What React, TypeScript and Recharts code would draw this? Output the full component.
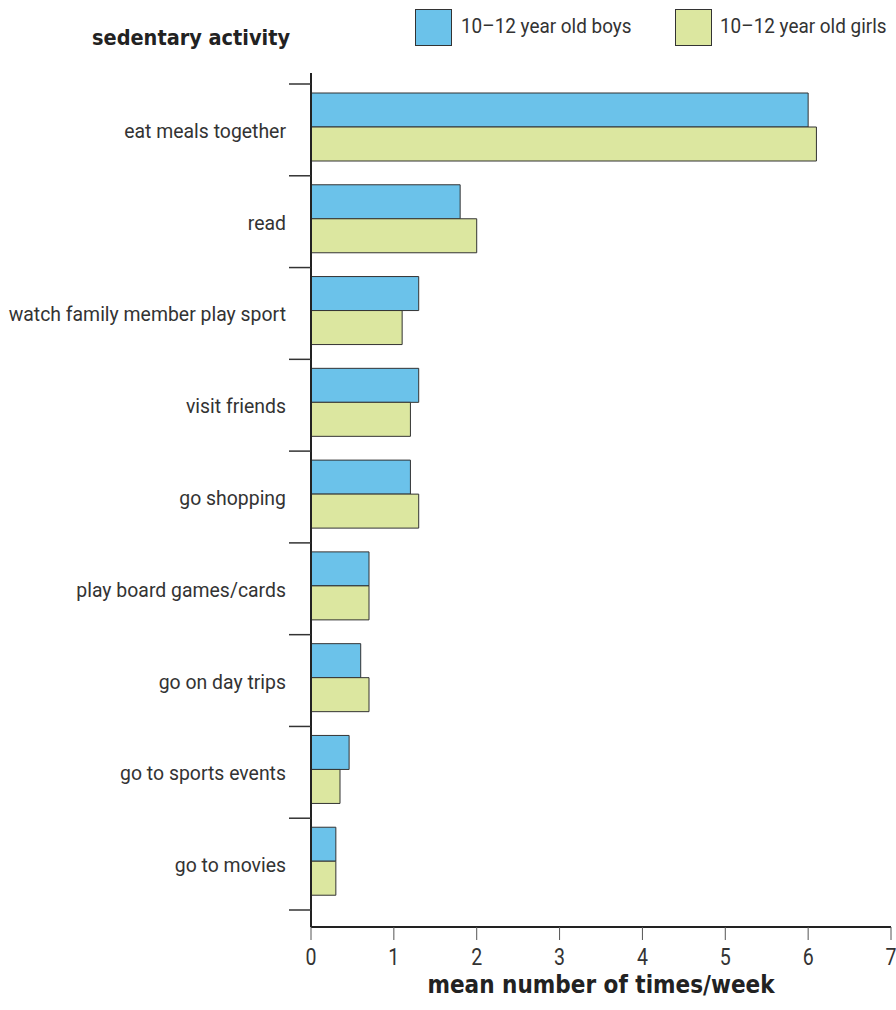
import React from 'react';
import { BarChart, Bar, XAxis, YAxis } from 'recharts';

const activities = [
  'eat meals together',
  'read',
  'watch family member play sport',
  'visit friends',
  'go shopping',
  'play board games/cards',
  'go on day trips',
  'go to sports events',
  'go to movies',
];
const boys = [6.0, 1.8, 1.3, 1.3, 1.2, 0.7, 0.6, 0.46, 0.3];
const girls = [6.1, 2.0, 1.1, 1.2, 1.3, 0.7, 0.7, 0.35, 0.3];
const xTicks = [0, 1, 2, 3, 4, 5, 6, 7];

const BLUE = '#6BC2EA';
const GREEN = '#DCE7A0';
const LIGHT = 'Roboto, "Noto Sans", sans-serif';
const BOLD = '"DejaVu Sans Condensed", "DejaVu Sans", sans-serif';

const W = 896;
const H = 1010;
const TOP = 73;
const BOTTOM = 83;
const PAD_TOP = 8;
const PAD_BOTTOM = 20;
const BAND = (H - TOP - BOTTOM - PAD_TOP - PAD_BOTTOM) / activities.length;

const data = activities.map((name, i) => ({ name, boys: boys[i], girls: girls[i] }));

// label at band centre, plus divider ticks at band edges
const CategoryTick = (props: any) => {
  const { x, y, payload, index } = props;
  return (
    <g>
      <line x1={x - 22} x2={x} y1={y - BAND / 2 + 3} y2={y - BAND / 2 + 3} stroke="#333" strokeWidth={1.5} />
      {index === activities.length - 1 && (
        <line x1={x - 22} x2={x} y1={y + BAND / 2 + 3} y2={y + BAND / 2 + 3} stroke="#333" strokeWidth={1.5} />
      )}
      <g transform={`translate(${x - 25},${y + 11}) scale(0.925,1)`}>
        <text x={0} y={0} textAnchor="end" fontSize={21} fill="#333" fontFamily={LIGHT}>
          {payload.value}
        </text>
      </g>
    </g>
  );
};

const XTick = (props: any) => {
  const { x, y, payload } = props;
  return (
    <g transform={`translate(${x},${y + 23}) scale(0.85,1)`}>
      <text x={0} y={0} textAnchor="middle" fontSize={23} fill="#333" fontFamily={LIGHT}>
        {payload.value}
      </text>
    </g>
  );
};

const legendText: React.CSSProperties = {
  position: 'absolute',
  top: 14,
  fontSize: 21,
  color: '#333',
  fontFamily: LIGHT,
  whiteSpace: 'nowrap',
  transform: 'scaleX(0.9)',
  transformOrigin: 'left',
};

export default function App() {
  return (
    <div style={{ position: 'relative', width: W, height: H, background: '#fff' }}>
      <style>{`body{margin:0}`}</style>
      <div style={{ position: 'absolute', left: 92, top: 25, fontSize: 21.5, fontWeight: 'bold', color: '#222', fontFamily: BOLD, whiteSpace: 'nowrap' }}>
        sedentary activity
      </div>
      <div style={{ position: 'absolute', left: 415, top: 9, width: 35, height: 35, background: BLUE, border: '1px solid #333' }} />
      <div style={{ ...legendText, left: 461 }}>10–12 year old boys</div>
      <div style={{ position: 'absolute', left: 675, top: 9, width: 35, height: 35, background: GREEN, border: '1px solid #333' }} />
      <div style={{ ...legendText, left: 720 }}>10–12 year old girls</div>

      <BarChart
        width={W}
        height={H}
        data={data}
        layout="vertical"
        margin={{ top: TOP, right: 5, left: 0, bottom: BOTTOM - 60 }}
        barGap={0}
        barSize={34}
      >
        <XAxis
          type="number"
          domain={[0, 7]}
          ticks={xTicks}
          height={60}
          axisLine={{ stroke: '#222', strokeWidth: 2 }}
          tickLine={{ stroke: '#555', strokeWidth: 1 }}
          tickSize={13}
          tick={<XTick />}
          label={{ value: 'mean number of times/week', position: 'insideBottom', offset: -6, fontSize: 24, fontWeight: 'bold', fill: '#222', fontFamily: BOLD }}
        />
        <XAxis
          xAxisId="top"
          orientation="top"
          type="number"
          domain={[0, 7]}
          height={0}
          tick={false}
          tickLine={false}
          axisLine={{ stroke: '#222', strokeWidth: 2 }}
        />
        <YAxis
          type="category"
          dataKey="name"
          width={311}
          padding={{ top: PAD_TOP, bottom: PAD_BOTTOM }}
          axisLine={{ stroke: '#222', strokeWidth: 2 }}
          tickLine={false}
          tickSize={0}
          tickMargin={0}
          tick={<CategoryTick />}
          interval={0}
        />
        <Bar dataKey="boys" fill={BLUE} stroke="#333" strokeWidth={1} isAnimationActive={false} />
        <Bar dataKey="girls" fill={GREEN} stroke="#333" strokeWidth={1} isAnimationActive={false} />
      </BarChart>
    </div>
  );
}
